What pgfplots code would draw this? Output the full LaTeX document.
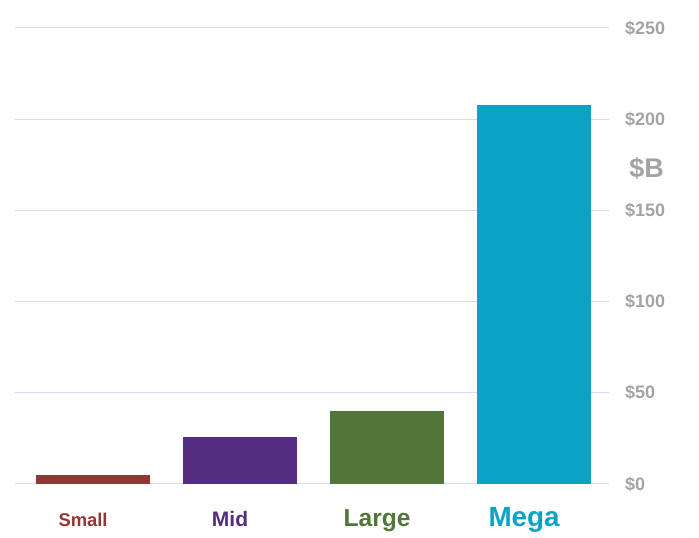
\documentclass[border=0pt]{standalone}
\usepackage{pgfplots}
\pgfplotsset{compat=1.18}
\usepackage{fontspec}
\setmainfont{Liberation Sans}
\definecolor{cSmall}{HTML}{963634}
\definecolor{cMid}{HTML}{532D80}
\definecolor{cLarge}{HTML}{52753A}
\definecolor{cMega}{HTML}{0AA3C3}
\definecolor{cGray}{HTML}{A3A3A3}
\definecolor{cGrid}{HTML}{DADAF2}
\begin{document}
\begin{tikzpicture}[x=1pt,y=1pt]
\useasboundingbox (0,0) rectangle (699,538);
\begin{axis}[
  at={(15pt,54pt)}, anchor=south west,
  scale only axis, width=594pt, height=456pt,
  xmin=-0.531, xmax=3.51, ymin=0, ymax=250,
  ybar, bar width=114pt, bar shift=0pt,
  axis line style={draw=none},
  major tick length=0pt,
  ymajorgrids, major grid style={cGrid, line width=1pt},
  ytick={0,50,100,150,200,250},
  yticklabel pos=right,
  /pgf/number format/assume math mode=true,
  yticklabel={\textbf{\$\pgfmathprintnumber{\tick}}},
  yticklabel style={anchor=west, inner sep=0pt, xshift=16pt, font=\fontsize{18}{20}\selectfont\bfseries, text=cGray},
  xtick={0,1,2,3},
  xticklabels={
    {\textcolor{cSmall}{\fontsize{18.4}{20}\selectfont Small}},
    {\textcolor{cMid}{\fontsize{21}{23}\selectfont Mid}},
    {\textcolor{cLarge}{\fontsize{24.6}{27}\selectfont Large}},
    {\textcolor{cMega}{\fontsize{27.8}{30}\selectfont Mega}}},
  xticklabel style={anchor=base, yshift=-42pt, xshift=-10pt, font=\bfseries},
  clip=false,
]
\addplot[fill=cSmall, draw=none] coordinates {(0,5)};
\addplot[fill=cMid, draw=none] coordinates {(1,26)};
\addplot[fill=cLarge, draw=none] coordinates {(2,40)};
\addplot[fill=cMega, draw=none] coordinates {(3,208)};
\node[text=cGray, font=\fontsize{27}{30}\selectfont\bfseries, inner sep=0pt] at (rel axis cs:1,0.693) [xshift=37.5pt] {\$B};
\end{axis}
\end{tikzpicture}
\end{document}
